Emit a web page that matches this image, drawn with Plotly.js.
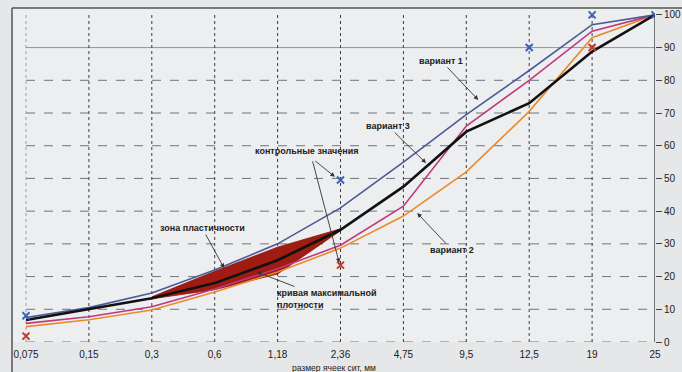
<!DOCTYPE html>
<html><head><meta charset="utf-8">
<script src="https://cdn.plot.ly/plotly-3.0.1.min.js"></script>
<style>html,body{margin:0;padding:0;background:#e5e7e8;}#c{width:682px;height:372px;}</style>
</head><body><div id="c"></div>
<script>
var sieves = ['0,075','0,15','0,3','0,6','1,18','2,36','4,75','9,5','12,5','19','25'];
var variant1 = [7.5, 10.5, 15, 22, 30, 41, 55, 69.5, 83, 97, 100];
var variant2 = [4.7, 6.8, 9.8, 15.3, 21.4, 28.7, 38.5, 52, 70.5, 93, 100];
var variant3 = [5.7, 7.7, 10.8, 16.2, 22.4, 29.6, 41.5, 66, 80, 95, 100];
var maxDensity = [6.7, 10.1, 13.4, 18, 25, 34.3, 47.5, 64.3, 73, 88.8, 100];
var zoneSieves = ['0,3','0,6','1,18','2,36'];
var zoneUpper = [13.8, 21.6, 29, 34.6];
var zoneLower = [13.2, 16, 20.8, 34.0];
var ctrlBlueX = ['0,075','2,36','12,5','19','25'];
var ctrlBlueY = [8, 49.5, 90, 100, 100];
var ctrlRedX = ['0,075','2,36','19'];
var ctrlRedY = [1.8, 23.5, 90];
var yTicks = [0,10,20,30,40,50,60,70,80,90,100];

var FONT = 'Liberation Sans Narrow, Arial Narrow, Liberation Sans, sans-serif';
var zx = zoneSieves.concat(zoneSieves.slice().reverse());
var zy = zoneUpper.concat(zoneLower.slice().reverse());

var traces = [
  {x: zx, y: zy, type:'scatter', mode:'lines', fill:'toself', fillcolor:'#a01b12', line:{color:'#8a140e', width:0.8}, hoverinfo:'skip'},
  {x: sieves, y: variant2, type:'scatter', mode:'lines', line:{color:'#e98a2c', width:1.6}},
  {x: sieves, y: variant3, type:'scatter', mode:'lines', line:{color:'#c1387c', width:1.6}},
  {x: sieves, y: variant1, type:'scatter', mode:'lines', line:{color:'#4a5a98', width:1.6}},
  {x: sieves, y: maxDensity, type:'scatter', mode:'lines', line:{color:'#111111', width:2.6}},
  {x: ctrlBlueX, y: ctrlBlueY, type:'scatter', mode:'markers', marker:{symbol:'x-thin', size:7, line:{color:'#3b63b5', width:2}, color:'#3b63b5'}},
  {x: ctrlRedX, y: ctrlRedY, type:'scatter', mode:'markers', marker:{symbol:'x-thin', size:7, line:{color:'#c2392c', width:2}, color:'#c2392c'}}
];

var shapes = [];
for (var v = 0; v <= 90; v += 10) {
  shapes.push({type:'line', xref:'x', yref:'y', x0:0, x1:10, y0:v, y1:v, layer:'below',
    line:{color: v===90 ? '#8a92bb' : '#6f7580', width:1, dash: v===90 ? 'solid' : 'dash'}});
}
for (var i = 0; i <= 9; i++) {
  shapes.push({type:'line', xref:'x', yref:'y', x0:i, x1:i, y0:0, y1:100, layer:'below',
    line:{color: i===0 ? '#9a9ea5' : '#3a3d42', width:1, dash:'dot'}});
}
shapes.push({type:'line', xref:'x', yref:'y', x0:10, x1:10, y0:0, y1:100, line:{color:'#222', width:1.2}});
shapes.push({type:'line', xref:'paper', yref:'paper', x0:0, x1:1.05, y0:1, y1:1, line:{color:'#555', width:1.5}});
shapes.push({type:'line', xref:'paper', yref:'paper', x0:0, x1:0, y0:1, y1:-0.1, line:{color:'#555', width:1.5}});

var af = {family: FONT, size: 9, color:'#222'};
var arr = {showarrow:true, arrowhead:2, arrowsize:1, arrowwidth:0.9, arrowcolor:'#333', axref:'pixel', ayref:'pixel'};
function A(o){ var r = {}; for (var k in arr) r[k]=arr[k]; for (var k2 in o) r[k2]=o[k2]; r.font = af; return r; }

var annotations = [
  A({x:7.19, y:74, xref:'x', yref:'y', ax:-37, ay:-39, text:'<b>вариант 1</b>'}),
  A({x:6.36, y:54.7, xref:'x', yref:'y', ax:-38, ay:-37, text:'<b>вариант 3</b>'}),
  A({x:6.22, y:39.4, xref:'x', yref:'y', ax:35, ay:37, text:'<b>вариант 2</b>'}),
  A({x:3.15, y:22.6, xref:'x', yref:'y', ax:-22, ay:-40, text:'<b>зона пластичности</b>'}),
  A({x:3.67, y:21.4, xref:'x', yref:'y', ax:70, ay:27, text:'<b>кривая максимальной<br>плотности</b>', align:'left'}),
  {x:4.47, y:58.4, xref:'x', yref:'y', showarrow:false, text:'<b>контрольные значения</b>', font:af},
  A({x:4.91, y:50.5, xref:'x', yref:'y', ax:-21, ay:-17, text:''}),
  A({x:4.98, y:24.2, xref:'x', yref:'y', ax:-27, ay:-103, text:''}),
  {x:0.5, y:-0.078, xref:'paper', yref:'paper', yanchor:'middle', showarrow:false, text:'размер ячеек сит, мм', font:{family:FONT, size:8.5, color:'#222'}}
];

var layout = {
  width:682, height:372,
  margin:{l:12, r:27, t:8, b:30},
  paper_bgcolor:'#e5e7e8', plot_bgcolor:'#eceeef',
  showlegend:false,
  font:{family:FONT, size:10, color:'#222'},
  xaxis:{type:'category', categoryorder:'array', categoryarray:sieves, range:[-0.2226, 10],
    showgrid:false, zeroline:false, showline:false, ticks:'', ticklabelstandoff:5, tickfont:{family:FONT, size:10, color:'#222'}},
  yaxis:{side:'right', range:[0, 102.1], tickvals:yTicks, ticktext:yTicks.map(String),
    showgrid:false, zeroline:false, showline:false, ticks:'outside', ticklen:6, tickcolor:'#444',
    tickfont:{family:FONT, size:10, color:'#222'}},
  shapes:shapes, annotations:annotations
};
Plotly.newPlot('c', traces, layout, {displayModeBar:false, staticPlot:true});
</script></body></html>
